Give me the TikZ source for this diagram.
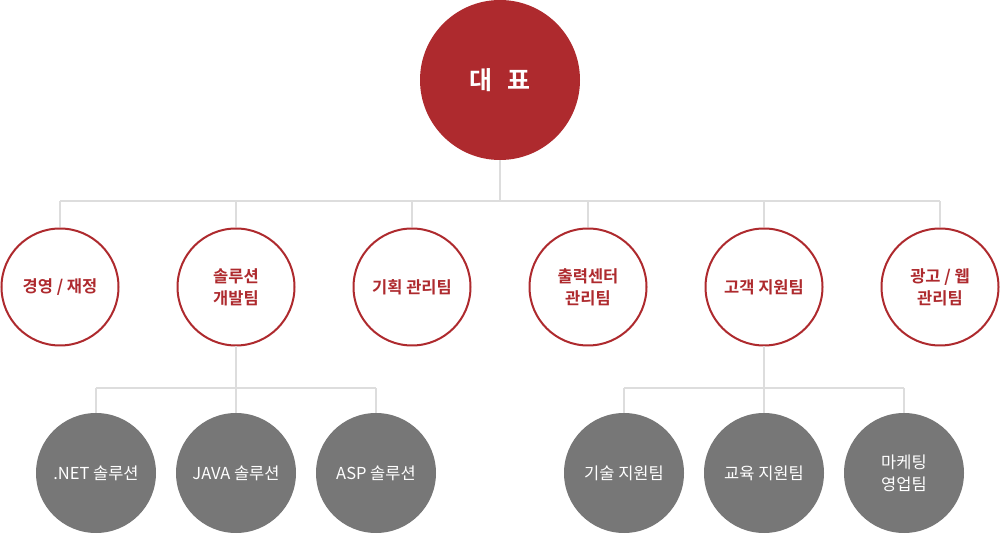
\documentclass[tikz,border=0pt]{standalone}
\usepackage{fontspec}
\setmainfont{Noto Sans CJK KR}[BoldFont={Noto Sans CJK KR Bold}]
\definecolor{redc}{HTML}{AE2A2E}
\definecolor{greyc}{HTML}{777777}
\definecolor{linec}{HTML}{DDDDDD}
\tikzset{
  topc/.style={circle, fill=redc, minimum size=160pt, inner sep=0pt, text=white, font=\fontsize{25}{30}\selectfont\bfseries},
  deptc/.style={circle, draw=redc, line width=2pt, fill=white, minimum size=117pt, inner sep=0pt, text=redc, align=center, font=\fontsize{16.5}{22}\selectfont\bfseries},
  teamc/.style={circle, fill=greyc, minimum size=120pt, inner sep=0pt, text=white, align=center, font=\fontsize{16.5}{22}\selectfont},
  conn/.style={draw=linec, line width=2pt}
}
\begin{document}
\begin{tikzpicture}[x=1pt,y=-1pt]
\useasboundingbox (0,0) rectangle (1002,534);
\coordinate (bus) at (500,201);
\node[topc] (ceo) at (500,80) {대\hspace{0.6em}표};
\node[deptc] (d1) at (60,287) {경영 / 재정};
\node[deptc] (d2) at (236,287) {솔루션\\개발팀};
\node[deptc] (d3) at (412,287) {기획 관리팀};
\node[deptc] (d4) at (588,287) {출력센터\\관리팀};
\node[deptc] (d5) at (764,287) {고객 지원팀};
\node[deptc] (d6) at (940,287) {광고 / 웹\\관리팀};
\node[teamc] (t1) at (96,473) {.NET 솔루션};
\node[teamc] (t2) at (236,473) {JAVA 솔루션};
\node[teamc] (t3) at (376,473) {ASP 솔루션};
\node[teamc] (t4) at (624,473) {기술 지원팀};
\node[teamc] (t5) at (764,473) {교육 지원팀};
\node[teamc] (t6) at (904,473) {마케팅\\영업팀};
\draw[conn] (ceo.south) -- (bus);
\foreach \d in {d1,d2,d3,d4,d5,d6}{
  \draw[conn] (\d.north) -- (\d.north |- bus);
}
\draw[conn] (d1.north |- bus) -- (d6.north |- bus);
\coordinate (busl) at (236,388);
\coordinate (busr) at (764,388);
\draw[conn] (d2.south) -- (busl);
\draw[conn] (d5.south) -- (busr);
\foreach \t in {t1,t2,t3}{ \draw[conn] (\t.north) -- (\t.north |- busl); }
\foreach \t in {t4,t5,t6}{ \draw[conn] (\t.north) -- (\t.north |- busr); }
\draw[conn] (t1.north |- busl) -- (t3.north |- busl);
\draw[conn] (t4.north |- busr) -- (t6.north |- busr);
\end{tikzpicture}
\end{document}
